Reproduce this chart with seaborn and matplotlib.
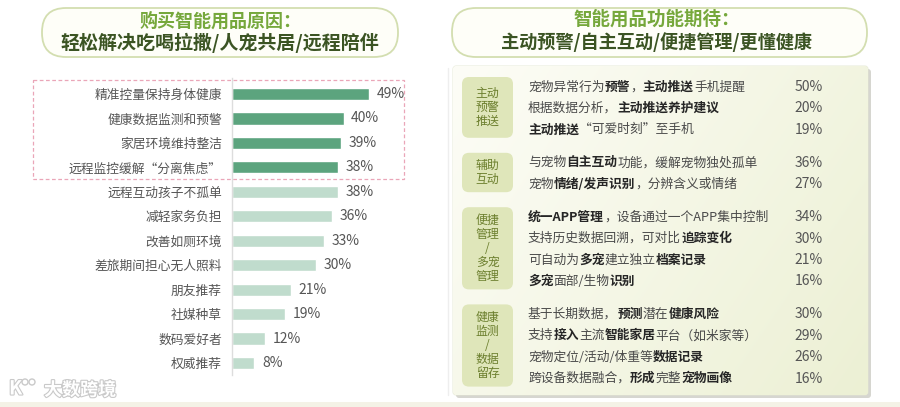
import numpy as np
import pandas as pd
import matplotlib.pyplot as plt
import seaborn as sns
from matplotlib import font_manager
from matplotlib.ft2font import FT2Font
from matplotlib.patches import FancyBboxPatch, Rectangle, Circle
import matplotlib.patheffects as pe

# 左侧：购买原因
reasons = ["精准控量保持身体健康", "健康数据监测和预警", "家居环境维持整洁", "远程监控缓解“分离焦虑”",
           "远程互动孩子不孤单", "减轻家务负担", "改善如厕环境", "差旅期间担心无人照料",
           "朋友推荐", "社媒种草", "数码爱好者", "权威推荐"]
reason_pct = [49, 40, 39, 38, 38, 36, 33, 30, 21, 19, 12, 8]
n_highlight = 4

left_title = ["购买智能用品原因：", "轻松解决吃喝拉撒/人宠共居/远程陪伴"]
right_title = ["智能用品功能期待：", "主动预警/自主互动/便捷管理/更懂健康"]

# 右侧：功能期待（** 之间为加粗）
group_labels = ["主动\n预警\n推送", "辅助\n互动", "便捷\n管理\n/\n多宠\n管理", "健康\n监测\n/\n数据\n留存"]
features = [
    ["宠物异常行为**预警**，**主动推送**手机提醒",
     "根据数据分析，**主动推送养护建议**",
     "**主动推送**“可爱时刻”至手机"],
    ["与宠物**自主互动**功能，缓解宠物独处孤单",
     "宠物**情绪/发声识别**，分辨含义或情绪"],
    ["**统一APP管理**，设备通过一个APP集中控制",
     "支持历史数据回溯，可对比**追踪变化**",
     "可自动为**多宠**建立独立**档案记录**",
     "**多宠**面部/生物**识别**"],
    ["基于长期数据，**预测**潜在**健康风险**",
     "支持**接入**主流**智能家居**平台（如米家等）",
     "宠物定位/活动/体重等**数据记录**",
     "跨设备数据融合，**形成**完整**宠物画像**"],
]
feature_pct = [[50, 20, 19], [36, 27], [34, 30, 21, 16], [30, 29, 26, 16]]

sns.set_theme(style="white")
plt.rcParams['font.family'] = ['Noto Sans CJK SC', 'DejaVu Sans']

ROW_FS = 9.2


def make_advance(weight):
    # 按字形步进宽度计算（像素），用于拼接粗细混排的文字
    try:
        path = font_manager.findfont(font_manager.FontProperties(family="Noto Sans CJK SC", weight=weight))
        ft = FT2Font(path)
        ft.set_size(ROW_FS, 100)

        def adv(s):
            return sum(ft.load_char(ord(ch)).linearHoriAdvance / 65536 for ch in s)
    except Exception:
        def adv(s):
            return sum(ROW_FS * 100 / 72 * (1 if ord(ch) > 255 else 0.58) for ch in s)
    return adv


adv_regular = make_advance("normal")
adv_bold = make_advance("bold")

fig = plt.figure(figsize=(9, 4.07), dpi=100)
fig.patch.set_facecolor("white")

# 背景层（像素坐标）
bg = fig.add_axes([0, 0, 1, 1], zorder=0)
bg.set_xlim(0, 900)
bg.set_ylim(407, 0)
bg.axis("off")

bg.add_patch(Rectangle((0, 402), 900, 5, fc="#f4f2e6", ec="none"))
bg.plot([448, 448], [68, 395], color="#eeeeee", lw=1)

# 标题胶囊
for x0, w, cx, lines, sizes, ys in [
    (42, 356, 220, left_title, (13, 13.7), (21, 43)),
    (452, 415, 657, right_title, (13.3, 13.1), (19, 42)),
]:
    bg.add_patch(FancyBboxPatch((x0, 8), w, 49, boxstyle="round,pad=0,rounding_size=24",
                                fc="#fefef8", ec="#d3deb0", lw=1.3))
    bg.text(cx, ys[0], lines[0], ha="center", va="center", fontsize=sizes[0],
            fontweight="bold", color="#76a83c")
    bg.text(cx, ys[1], lines[1], ha="center", va="center", fontsize=sizes[1],
            fontweight="bold", color="#3b5423")

# 左侧条形图
ax = fig.add_axes([232 / 900, 1 - 375 / 407, 167.4 / 900, 297 / 407], zorder=2)
ax.patch.set_alpha(0)
df = pd.DataFrame({"reason": reasons, "pct": reason_pct,
                   "grp": ["top"] * n_highlight + ["rest"] * (len(reasons) - n_highlight)})
sns.barplot(data=df, y="reason", x="pct", hue="grp", dodge=False, width=0.5,
            palette={"top": "#50b07d", "rest": "#bbe1cd"}, legend=False, ax=ax)
ax.set_xlim(0, 60)
ax.set_ylim(11.49, -0.654)
for c in ax.containers:
    ax.bar_label(c, fmt="%g%%", padding=5.5, fontsize=10, color="#555555")
ax.set_xticks([])
ax.set_xlabel("")
ax.set_ylabel("")
ax.tick_params(axis="y", length=0, pad=7.2, labelsize=9.2, labelcolor="#555555")
for s in ["top", "right", "bottom"]:
    ax.spines[s].set_visible(False)
ax.spines["left"].set_color("#dddddd")
ax.spines["left"].set_linewidth(1)

bg.add_patch(Rectangle((33, 80), 371, 99, fill=False, ec="#eaa6b8", ls=(0, (3, 2)), lw=0.9))

# 右侧面板
bg.add_patch(FancyBboxPatch((456, 69), 415, 329, boxstyle="round,pad=0,rounding_size=3",
                            fc="#b5b5ab", ec="none", alpha=0.55))
panel = FancyBboxPatch((453, 66), 415, 329, boxstyle="round,pad=0,rounding_size=3",
                       fc="#fbfbf2", ec="#e2e5d0", lw=0.6)
bg.add_patch(panel)
gx, gy = np.meshgrid(np.linspace(0, 1, 200), np.linspace(0, 1, 150))
grad = np.clip(0.65 * gx + 0.35 * gy, 0, 1)
c0 = np.array([253, 253, 247]) / 255
c1 = np.array([236, 240, 212]) / 255
img = c0 + (c1 - c0) * grad[..., None]
im = bg.imshow(img, extent=(453, 868, 395, 66), aspect="auto", zorder=1)
im.set_clip_path(panel)

row_y = 87
for g, (label, rows, pcts) in enumerate(zip(group_labels, features, feature_pct)):
    ys = [row_y + i * 21.4 for i in range(len(rows))]
    top, bottom = ys[0] - 10, ys[-1] + 8
    bg.add_patch(FancyBboxPatch((462, top), 51, bottom - top, boxstyle="round,pad=0,rounding_size=7",
                                fc="#dfe6ba", ec="none", zorder=2))
    bg.text(487.5, (top + bottom) / 2, label, ha="center", va="center", fontsize=8.6,
            color="#6c7f2e", linespacing=1.1, zorder=3)
    for y, row, p in zip(ys, rows, pcts):
        x = 528
        for k, seg in enumerate(row.split("**")):
            if not seg:
                continue
            bold = k % 2 == 1
            bg.text(x, y, seg, fontsize=ROW_FS, va="center", ha="left", zorder=3,
                    fontweight="bold" if bold else "normal",
                    color="#262626" if bold else "#4a4a4a")
            x += adv_bold(seg) if bold else adv_regular(seg)
        bg.text(823, y, f"{p}%", ha="right", va="center", fontsize=10, color="#555555", zorder=3)
    row_y = ys[-1] + 33

# 水印
wm = [pe.withStroke(linewidth=1.6, foreground="#c9c9c9")]
bg.text(9, 389, "K", fontsize=14, color="white", fontweight="bold", va="center", path_effects=wm)
for cx in (25, 32):
    bg.add_patch(Circle((cx, 382), 3, fc="white", ec="#c9c9c9", lw=1))
bg.text(44, 390, "大数跨境", fontsize=13, color="white", va="center", fontweight="bold", path_effects=wm)

fig.savefig("out.png", dpi=100)
